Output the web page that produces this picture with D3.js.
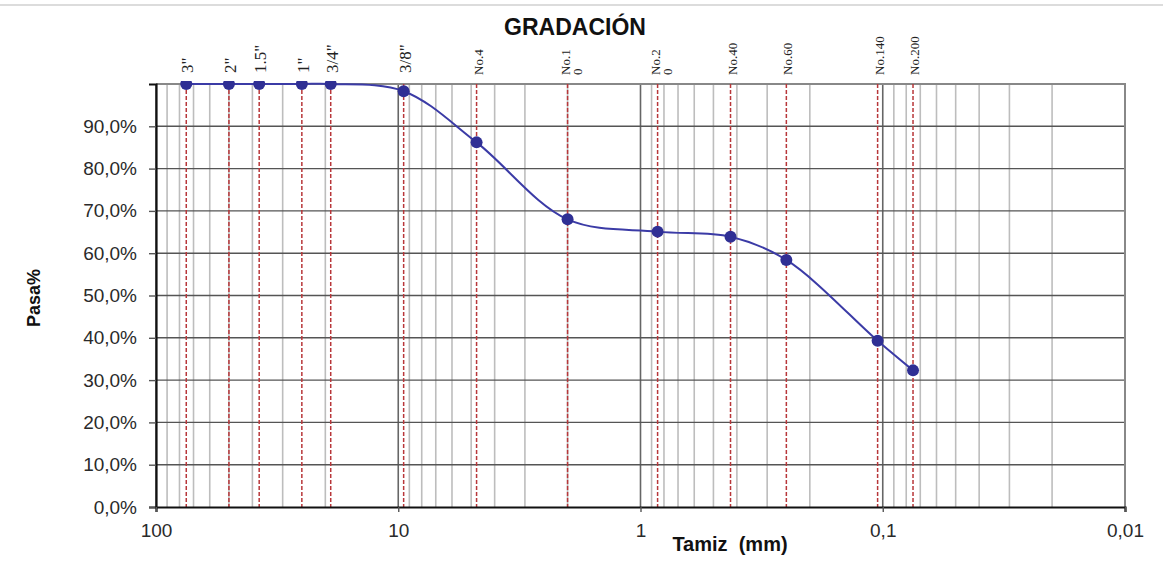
<!DOCTYPE html>
<html>
<head>
<meta charset="utf-8">
<script src="https://cdn.jsdelivr.net/npm/d3@7"></script>
<style>
  body { margin: 0; background: #fff; }
  svg { display: block; }
</style>
</head>
<body>
<div id="chart"></div>
<script>
// Sieve names (top labels), opening sizes in mm and percent passing
const sieveLabels = ['3"', '2"', '1.5"', '1"', '3/4"', '3/8"', "No.4", "No.1|0", "No.2|0", "No.40", "No.60", "No.140", "No.200"];
const sieveSizes = [75, 50, 37.5, 25, 19, 9.5, 4.75, 2, 0.85, 0.425, 0.25, 0.105, 0.075];
const passing = [100, 100, 100, 100, 100, 98.3, 86.2, 68.0, 65.1, 63.9, 58.4, 39.3, 32.3];
// Axis ticks
const xTicks = [100, 10, 1, 0.1, 0.01];
const xTickLabels = ["100", "10", "1", "0,1", "0,01"];
const yTicks = [0, 10, 20, 30, 40, 50, 60, 70, 80, 90];

const w = 1163;
const h = 571;
const margin = {top: 84, right: 38, bottom: 64, left: 156};

const svg = d3.select("#chart").append("svg")
  .attr("width", w)
  .attr("height", h);

// faint frame line at the very top of the screenshot
svg.append("line")
  .attr("x1", 0).attr("x2", w).attr("y1", 5).attr("y2", 5)
  .attr("stroke", "#dcdcdc").attr("stroke-width", 2);

const x = d3.scaleLog()
  .domain([100, 0.01])
  .range([margin.left, w - margin.right]);

const y = d3.scaleLinear()
  .domain([0, 100])
  .range([h - margin.bottom, margin.top]);

const locale = d3.formatLocale({decimal: ",", thousands: ".", grouping: [3], currency: ["", ""]});
const fmtY = locale.format(".1f");

// vertical log grid (minor lines light, decades dark)
const gridX = x.ticks();
svg.append("g")
  .selectAll("line")
  .data(gridX)
  .enter()
  .append("line")
  .attr("x1", d => x(d)).attr("x2", d => x(d))
  .attr("y1", margin.top).attr("y2", h - margin.bottom)
  .attr("stroke", d => xTicks.includes(d) ? "#666" : "#bdbdbd")
  .attr("stroke-width", 1.6);

// horizontal grid
svg.append("g")
  .selectAll("line")
  .data(yTicks.filter(d => d > 0))
  .enter()
  .append("line")
  .attr("x1", margin.left).attr("x2", w - margin.right)
  .attr("y1", d => y(d)).attr("y2", d => y(d))
  .attr("stroke", "#555")
  .attr("stroke-width", 1.4);

// top and right border
svg.append("path")
  .attr("d", `M${margin.left},${y(100)}H${x(0.01)}V${y(0)}`)
  .attr("fill", "none")
  .attr("stroke", "#888")
  .attr("stroke-width", 2);

// red dashed lines at each sieve
svg.append("g")
  .selectAll("line")
  .data(sieveSizes)
  .enter()
  .append("line")
  .attr("x1", d => x(d)).attr("x2", d => x(d))
  .attr("y1", y(100)).attr("y2", y(0))
  .attr("stroke", "#b8373a")
  .attr("stroke-width", 1.5)
  .attr("stroke-dasharray", "4,2");

// sieve labels, rotated
const lab = svg.append("g")
  .selectAll("text")
  .data(sieveLabels)
  .enter()
  .append("text")
  .attr("transform", (d, i) => {
    const two = d.includes("|");
    const cx = x(sieveSizes[i]) + (two ? -3 : 1);
    return `translate(${cx},${two || d.startsWith("No") ? 75 : 73}) rotate(-90)`;
  })
  .attr("font-family", "'Liberation Serif', 'Times New Roman', serif")
  .attr("font-size", d => d.startsWith("No") ? 13 : 17)
  .attr("fill", "#222")
  .attr("dominant-baseline", "central");
lab.each(function(d) {
  const parts = d.split("|");
  const t = d3.select(this);
  parts.forEach((p, k) => {
    t.append("tspan")
      .attr("x", 0)
      .attr("dy", k === 0 ? 0 : 12)
      .text(p);
  });
});

// y axis
const yAxis = svg.append("g")
  .attr("transform", `translate(${margin.left},0)`)
  .call(d3.axisLeft(y).tickValues(yTicks).tickSize(7).tickPadding(12).tickFormat(d => fmtY(d) + "%"));
yAxis.select(".domain").attr("stroke", "#111").attr("stroke-width", 2.2);
yAxis.selectAll(".tick line").attr("stroke", "#555").attr("stroke-width", 1.4);
yAxis.selectAll("text")
  .attr("font-family", "'Liberation Sans', Arial, sans-serif")
  .attr("font-size", 19)
  .attr("fill", "#2a2a2a");

// x axis
const xAxis = svg.append("g")
  .attr("transform", `translate(0,${h - margin.bottom})`)
  .call(d3.axisBottom(x).tickValues(xTicks).tickSize(5).tickPadding(12).tickFormat((d, i) => xTickLabels[i]));
xAxis.select(".domain").attr("stroke", "#111").attr("stroke-width", 2.2);
xAxis.selectAll(".tick line").attr("stroke", "#555").attr("stroke-width", 1.4);
xAxis.selectAll("text")
  .attr("font-family", "'Liberation Sans', Arial, sans-serif")
  .attr("font-size", 19)
  .attr("fill", "#2a2a2a");

// clip for the data so dots on 100% are cut near the top border
svg.append("clipPath").attr("id", "clip")
  .append("rect")
  .attr("x", margin.left - 10).attr("y", y(100) - 3)
  .attr("width", w).attr("height", h);

const pts = sieveSizes.map((s, i) => [s, passing[i]]);
const line = d3.line()
  .x(d => x(d[0]))
  .y(d => y(d[1]))
  .curve(d3.curveCatmullRom.alpha(0.5));

const dataG = svg.append("g").attr("clip-path", "url(#clip)");
dataG.append("path")
  .datum(pts)
  .attr("d", line)
  .attr("fill", "none")
  .attr("stroke", "#3b3ba6")
  .attr("stroke-width", 2);

dataG.selectAll("circle")
  .data(pts)
  .enter()
  .append("circle")
  .attr("cx", d => x(d[0]))
  .attr("cy", d => y(d[1]))
  .attr("r", 6)
  .attr("fill", "#2f2f94");

// titles
svg.append("text")
  .attr("x", 575).attr("y", 35)
  .attr("text-anchor", "middle")
  .attr("font-family", "'Liberation Sans', Arial, sans-serif")
  .attr("font-weight", "bold")
  .attr("font-size", 23)
  .attr("fill", "#111")
  .text("GRADACIÓN");

svg.append("text")
  .attr("x", 730).attr("y", 551)
  .attr("text-anchor", "middle")
  .attr("font-family", "'Liberation Sans', Arial, sans-serif")
  .attr("font-weight", "bold")
  .attr("font-size", 20)
  .attr("fill", "#111")
  .attr("xml:space", "preserve")
  .style("white-space", "pre")
  .text("Tamiz  (mm)");

svg.append("text")
  .attr("transform", "translate(40,298) rotate(-90)")
  .attr("text-anchor", "middle")
  .attr("font-family", "'Liberation Sans', Arial, sans-serif")
  .attr("font-weight", "bold")
  .attr("font-size", 18)
  .attr("fill", "#111")
  .text("Pasa%");
</script>
</body>
</html>
